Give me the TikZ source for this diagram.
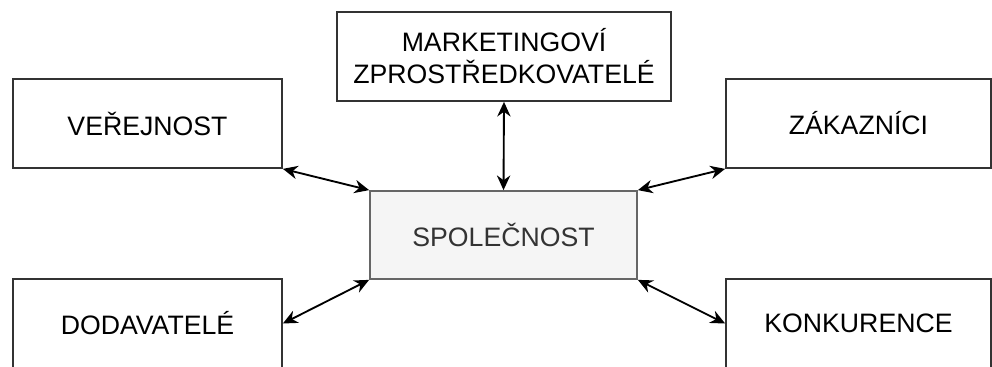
\documentclass[tikz,border=0pt]{standalone}
\usepackage{fontspec}
\setmainfont{Liberation Sans}
\usetikzlibrary{arrows.meta}
\definecolor{compfill}{HTML}{F5F5F5}
\definecolor{compedge}{HTML}{666666}
\definecolor{compink}{HTML}{333333}

\begin{document}
\begin{tikzpicture}[x=0.75pt,y=-0.75pt,
    party/.style={draw=black!80,line width=1.3pt,minimum width=201.75pt,
        minimum height=66.75pt,inner sep=0pt,align=center,
        font=\fontsize{20}{24}\selectfont},
    link/.style={{Stealth[length=11pt,width=10pt]}-{Stealth[length=11pt,width=10pt]},
        line width=1.4pt}]
    \useasboundingbox (0,0) rectangle (992,367);
    \clip (0,0) rectangle (992,367);

    % the company in the middle
    \node[party,fill=compfill,draw=compedge,text=compink,minimum width=200.25pt,
        minimum height=66pt] (comp) at (503.5,235) {SPOLEČNOST};

    % surrounding parties
    \node[party,minimum width=250.5pt] (mark) at (504,56.5)
        {MARKETINGOVÍ\\ZPROSTŘEDKOVATELÉ};
    \node[party] (pub) at (147.5,123.5) {VEŘEJNOST};
    \node[party,minimum width=198.75pt] (cust) at (858.5,123.5) {ZÁKAZNÍCI};
    \node[party] (supp) at (147.5,323.5) {DODAVATELÉ};
    \node[party,minimum width=198.75pt] (rival) at (858.5,323.5) {KONKURENCE};

    % links
    \draw[link] (mark.south) -- (comp.north);
    \draw[link] (pub.south east) -- (comp.north west);
    \draw[link] (cust.south west) -- (comp.north east);
    \draw[link] (comp.south west) -- (supp.east);
    \draw[link] (comp.south east) -- (rival.west);
\end{tikzpicture}
\end{document}
